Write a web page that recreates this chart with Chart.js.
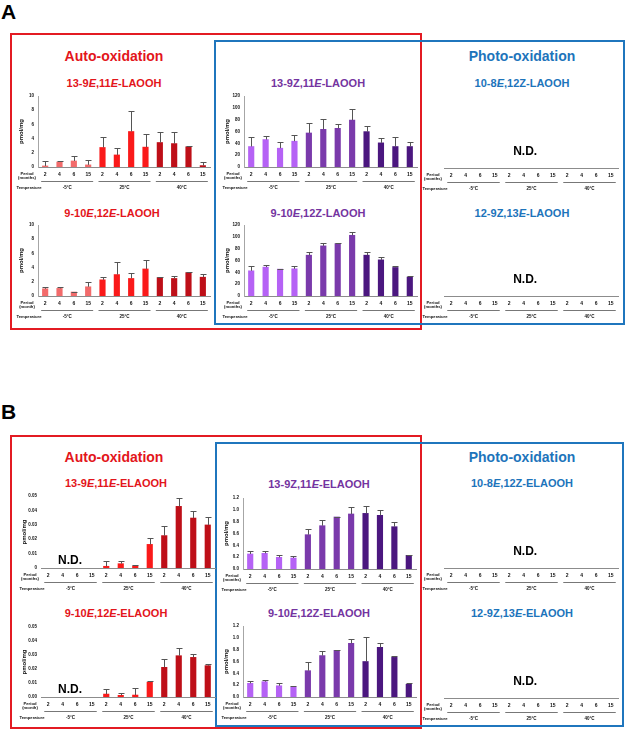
<!DOCTYPE html>
<html>
<head>
<meta charset="utf-8">
<script src="https://cdn.jsdelivr.net/npm/chart.js@4.4.0/dist/chart.umd.min.js"></script>
<style>
body { margin:0; width:625px; height:732px; position:relative; background:#fff; overflow:hidden;
       font-family:'Liberation Sans', Arial, sans-serif; }
.panel { position:absolute; font-weight:bold; font-size:21px; line-height:1; color:#000; }
.box { position:absolute; box-sizing:border-box; border:2.5px solid; }
.head { position:absolute; font-weight:bold; font-size:14px; transform:translate(-50%,-50%); white-space:nowrap; }
.title { position:absolute; font-weight:bold; font-size:11px; transform:translate(-50%,-50%); white-space:nowrap; }
.red { color:#e3151b; } .blue { color:#1d74bb; } .purple { color:#7434a0; }
canvas { position:absolute; }
</style>
</head>
<body>
<div class="panel" style="left:1px;top:1px">A</div>
<div class="panel" style="left:1px;top:401px">B</div>

<div class="box" style="left:10px;top:33px;width:412px;height:297px;border-color:#e31b23"></div>
<div class="box" style="left:214px;top:40px;width:411px;height:285px;border-color:#1f76bd"></div>
<div class="box" style="left:10px;top:435px;width:412px;height:294px;border-color:#e31b23"></div>
<div class="box" style="left:215px;top:442px;width:409px;height:285px;border-color:#1f76bd"></div>

<div class="head red" style="left:114px;top:56px">Auto-oxidation</div>
<div class="head blue" style="left:522px;top:56px">Photo-oxidation</div>
<div class="head red" style="left:114px;top:457px">Auto-oxidation</div>
<div class="head blue" style="left:522px;top:457px">Photo-oxidation</div>

<div class="title red" style="left:114px;top:83px">13-9<i>E</i>,11<i>E</i>-LAOOH</div>
<div class="title purple" style="left:318px;top:83px">13-9Z,11<i>E</i>-LAOOH</div>
<div class="title blue" style="left:522px;top:83px">10-8<i>E</i>,12Z-LAOOH</div>
<div class="title red" style="left:112px;top:213px">9-10<i>E</i>,12<i>E</i>-LAOOH</div>
<div class="title purple" style="left:318px;top:213px">9-10<i>E</i>,12Z-LAOOH</div>
<div class="title blue" style="left:522px;top:213px">12-9Z,13<i>E</i>-LAOOH</div>

<div class="title red" style="left:116px;top:483px">13-9<i>E</i>,11<i>E</i>-ELAOOH</div>
<div class="title purple" style="left:319px;top:484px">13-9Z,11<i>E</i>-ELAOOH</div>
<div class="title blue" style="left:522px;top:483px">10-8<i>E</i>,12Z-ELAOOH</div>
<div class="title red" style="left:116px;top:613px">9-10<i>E</i>,12<i>E</i>-ELAOOH</div>
<div class="title purple" style="left:319px;top:613px">9-10<i>E</i>,12Z-ELAOOH</div>
<div class="title blue" style="left:522px;top:613px">12-9Z,13<i>E</i>-ELAOOH</div>

<script>
// Categories
const periods = ['2', '4', '6', '15'];
const temperatures = ['-5°C', '25°C', '40°C'];

// A: LAOOH (pmol/mg), 4 periods x 3 temperatures
const la13EE = [0.15, 0.7, 0.85, 0.3, 2.75, 1.7, 5.0, 2.8, 3.45, 3.3, 2.85, 0.2];
const la13EE_sd = [0.7, 0.2, 0.7, 0.7, 1.45, 0.95, 2.95, 1.8, 1.55, 1.6, 0.05, 0.55];
const la13ZE = [34.6, 46.4, 31.8, 43.6, 57.5, 63.7, 65.4, 79.3, 59.8, 40.8, 34.6, 34.6];
const la13ZE_sd = [15.7, 6.1, 11.2, 11.1, 16.8, 17.9, 7.8, 17.9, 8.9, 7.8, 15.7, 7.3];
const la9EE = [1.02, 1.07, 0.56, 1.3, 2.28, 3.02, 2.47, 3.81, 2.6, 2.47, 3.3, 2.65];
const la9EE_sd = [0.24, 0.19, 0.04, 0.7, 0.37, 1.77, 0.83, 1.31, 0.05, 0.41, 0.14, 0.42];
const la9EZ = [42.6, 48.8, 45.4, 46, 69, 84.7, 88.6, 102.6, 69, 61.1, 48.2, 32];
const la9EZ_sd = [7.9, 3.2, 0.6, 4.5, 5, 4.5, 1.7, 6.2, 5, 4.5, 2.3, 2.2];

// B: ELAOOH (pmol/mg)
const el13EE = [null, null, null, null, 0.0012, 0.003, 0.0014, 0.0164, 0.0225, 0.0428, 0.0347, 0.0299];
const el13EE_sd = [null, null, null, null, 0.0037, 0.0019, 0.0006, 0.0044, 0.0064, 0.0058, 0.0049, 0.0055];
const el13ZE = [0.254, 0.265, 0.197, 0.186, 0.58, 0.732, 0.879, 0.93, 0.94, 0.907, 0.715, 0.231];
const el13ZE_sd = [0.045, 0.045, 0.033, 0.039, 0.09, 0.091, 0.006, 0.11, 0.125, 0.083, 0.085, 0.004];
const el9EE = [null, null, null, null, 0.0021, 0.0012, 0.0014, 0.0106, 0.0212, 0.0295, 0.0283, 0.0224];
const el9EE_sd = [null, null, null, null, 0.0036, 0.0016, 0.0052, 0.001, 0.0057, 0.0052, 0.0024, 0.0009];
const el9EZ = [0.231, 0.259, 0.19, 0.169, 0.445, 0.7, 0.789, 0.907, 0.6, 0.84, 0.67, 0.214];
const el9EZ_sd = [0.039, 0.034, 0.047, 0.021, 0.155, 0.077, 0.011, 0.073, 0.41, 0.073, 0.015, 0.023];

const notDetected = new Array(12).fill(null);

const periodLabels = temperatures.flatMap(() => periods);
const redShades = ['#f26b6b', '#fa1a1a', '#be0f18'];
const purpleShades = ['#b562f5', '#7a3aab', '#4b177f'];
const perBar = shades => shades.flatMap(c => [c, c, c, c]);

const FONT = '"Liberation Sans", Arial, sans-serif';
Chart.defaults.font.family = FONT;

// Error bars, temperature groups, side labels, N.D.
const extras = {
    id: 'extras',
    afterDatasetsDraw(chart, args, o) {
        if (!o.sd) return;
        const ctx = chart.ctx, x = chart.scales.x, y = chart.scales.y;
        ctx.save();
        ctx.strokeStyle = '#555';
        ctx.lineWidth = 1;
        chart.data.datasets[0].data.forEach((v, i) => {
            if (v == null || o.sd[i] == null) return;
            const px = Math.round(x.getPixelForValue(i)) + 0.5;
            const y0 = y.getPixelForValue(v), y1 = Math.round(y.getPixelForValue(v + o.sd[i])) + 0.5;
            ctx.beginPath();
            ctx.moveTo(px, y0); ctx.lineTo(px, y1);
            ctx.moveTo(px - 3, y1); ctx.lineTo(px + 3, y1);
            ctx.stroke();
        });
        ctx.restore();
    },
    afterDraw(chart, args, o) {
        const ctx = chart.ctx, x = chart.scales.x, a = chart.chartArea;
        ctx.save();
        ctx.textAlign = 'center';
        ctx.textBaseline = 'middle';
        ctx.fillStyle = '#111';
        temperatures.forEach((t, g) => {
            const x0 = x.getPixelForValue(g * 4) - 4, x1 = x.getPixelForValue(g * 4 + 3) + 5;
            ctx.strokeStyle = '#777';
            ctx.lineWidth = 1;
            ctx.beginPath();
            ctx.moveTo(x0, Math.round(a.bottom + 14) + 0.5);
            ctx.lineTo(x1, Math.round(a.bottom + 14) + 0.5);
            ctx.stroke();
            ctx.font = 'bold 4.5px ' + FONT;
            ctx.fillText(t, (x0 + x1) / 2, a.bottom + 21);
        });
        ctx.font = 'bold 4.2px ' + FONT;
        ctx.fillText('Period', a.left - 11, a.bottom + 6.5);
        ctx.fillText(o.unit, a.left - 11, a.bottom + 10.5);
        ctx.fillText('Temperature', a.left - 9, a.bottom + 21);
        if (o.yTitle) {
            ctx.save();
            ctx.translate(a.left - 17, (a.top + a.bottom) / 2);
            ctx.rotate(-Math.PI / 2);
            ctx.font = 'bold 6px ' + FONT;
            ctx.fillText('pmol/mg', 0, 0);
            ctx.restore();
        }
        if (o.nd) {
            ctx.font = 'bold 12px ' + FONT;
            ctx.fillStyle = '#000';
            ctx.fillText('N.D.', x.getPixelForValue(o.nd[0]), a.bottom - o.nd[1]);
        }
        ctx.restore();
    }
};

function drawPanel(box, spec) {
    const [L, T, R, B] = box;
    const cv = document.createElement('canvas');
    cv.width = R - L + 36;
    cv.height = B - T + 34;
    cv.style.left = (L - 32) + 'px';
    cv.style.top = (T - 8) + 'px';
    document.body.appendChild(cv);
    return new Chart(cv, {
        type: 'bar',
        data: {
            labels: periodLabels,
            datasets: [{ data: spec.values, backgroundColor: spec.colors || '#000', barThickness: 5.5 }]
        },
        options: {
            responsive: false,
            animation: false,
            devicePixelRatio: 1,
            layout: { padding: { top: 8, right: 4, left: 0, bottom: 0 } },
            plugins: {
                legend: { display: false },
                tooltip: { enabled: false },
                extras: { sd: spec.sd, unit: spec.unit || '(months)', yTitle: !!spec.step, nd: spec.nd }
            },
            scales: {
                x: {
                    grid: { display: false, drawTicks: false },
                    border: { color: '#8c8c8c' },
                    ticks: { padding: 5, autoSkip: false, maxRotation: 0, color: '#111', font: { size: 5, weight: 'bold' } },
                    afterFit: s => { s.height = 26; }
                },
                y: {
                    min: 0,
                    max: spec.max || 1,
                    grid: { display: false, drawTicks: false },
                    border: { display: !!spec.yLine, color: '#a6a6a6' },
                    ticks: {
                        display: !!spec.step,
                        stepSize: spec.step,
                        padding: 4,
                        color: '#111',
                        font: { size: 4.5, weight: 'bold' },
                        callback: spec.fmt
                    },
                    afterFit: s => { s.width = 32; }
                }
            }
        },
        plugins: [extras]
    });
}

const intFmt = v => String(Math.round(v));

// Panel A
drawPanel([38, 96, 210, 167], { values: la13EE, sd: la13EE_sd, colors: perBar(redShades), max: 10, step: 2, fmt: intFmt, yLine: true });
drawPanel([244, 96, 417, 167], { values: la13ZE, sd: la13ZE_sd, colors: perBar(purpleShades), max: 120, step: 20, fmt: intFmt, yLine: true });
drawPanel([444, 96, 618, 168], { values: notDetected, nd: [5.1, 16] });
drawPanel([38, 225, 210, 296], { values: la9EE, sd: la9EE_sd, colors: perBar(redShades), max: 10, step: 2, fmt: intFmt, yLine: true, unit: '(month)' });
drawPanel([244, 225, 417, 296], { values: la9EZ, sd: la9EZ_sd, colors: perBar(purpleShades), max: 120, step: 20, fmt: intFmt, yLine: true });
drawPanel([444, 225, 618, 296], { values: notDetected, nd: [5.1, 16] });

// Panel B
drawPanel([41, 496, 215, 568], { values: el13EE, sd: el13EE_sd, colors: perBar(redShades), max: 0.05, step: 0.01, fmt: v => v === 0 ? '0' : v.toFixed(2), nd: [1.5, 7] });
drawPanel([243, 498, 416, 569], { values: el13ZE, sd: el13ZE_sd, colors: perBar(purpleShades), max: 1.2, step: 0.2, fmt: v => v.toFixed(1), yLine: true });
drawPanel([444, 498, 618, 568], { values: notDetected, nd: [5.1, 16] });
drawPanel([41, 627, 215, 697], { values: el9EE, sd: el9EE_sd, colors: perBar(redShades), max: 0.05, step: 0.01, fmt: v => v.toFixed(2), nd: [1.5, 7], unit: '(month)' });
drawPanel([243, 626, 416, 697], { values: el9EZ, sd: el9EZ_sd, colors: perBar(purpleShades), max: 1.2, step: 0.2, fmt: v => v.toFixed(1), yLine: true });
drawPanel([444, 627, 618, 698], { values: notDetected, nd: [5.1, 16] });
</script>
</body>
</html>
